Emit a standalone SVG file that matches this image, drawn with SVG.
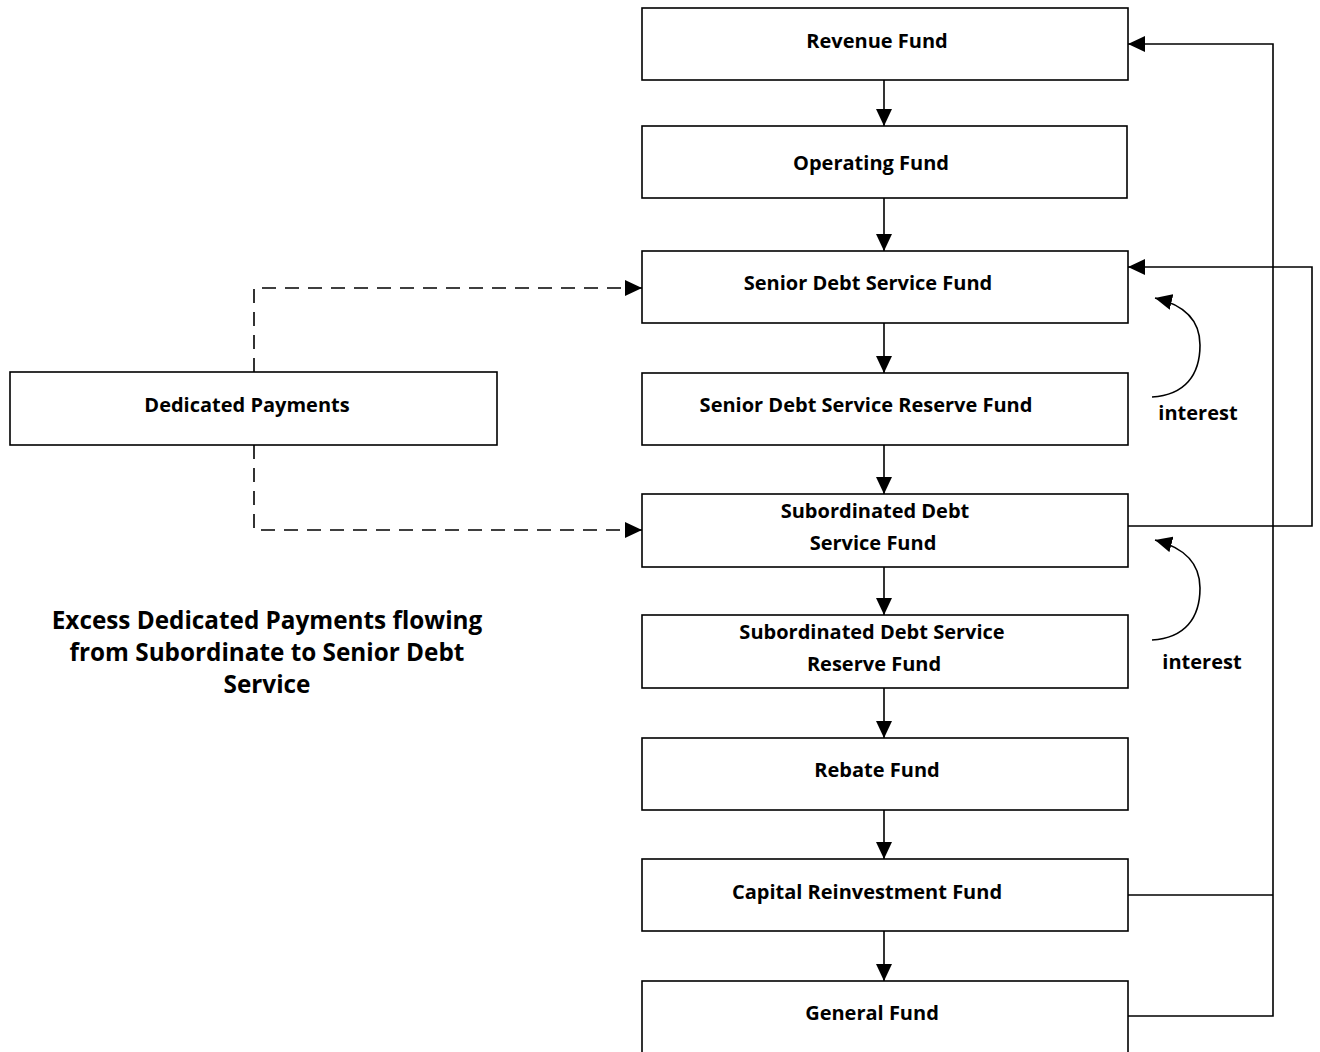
<svg xmlns="http://www.w3.org/2000/svg" width="1320" height="1052" viewBox="0 0 1320 1052">
  <style>
    .box { fill: #ffffff; stroke: #000000; stroke-width: 1.6; }
    .lbl { font-family: "Open Sans", "Liberation Sans", sans-serif; font-weight: bold; font-size: 20px; fill: #000000; text-anchor: middle; }
    .cap { font-family: "Open Sans", "Liberation Sans", sans-serif; font-weight: bold; font-size: 24.3px; fill: #000000; text-anchor: middle; }
    .ln { fill: none; stroke: #000000; stroke-width: 1.6; }
    .dash { fill: none; stroke: #000000; stroke-width: 1.6; stroke-dasharray: 14 9; }
  </style>
  <defs>
    <marker id="arrow" viewBox="0 0 17 16" refX="17" refY="8" markerWidth="17" markerHeight="16" markerUnits="userSpaceOnUse" orient="auto">
      <path d="M0,0 L17,8 L0,16 Z" fill="#000000"/>
    </marker>
  </defs>

  <rect width="1320" height="1052" fill="#ffffff"/>

  <!-- connectors -->
  <g id="connectors">
    <!-- vertical flow down the fund column -->
    <line class="ln" x1="884" y1="80" x2="884" y2="126" marker-end="url(#arrow)"/>
    <line class="ln" x1="884" y1="198" x2="884" y2="251" marker-end="url(#arrow)"/>
    <line class="ln" x1="884" y1="323" x2="884" y2="373" marker-end="url(#arrow)"/>
    <line class="ln" x1="884" y1="445" x2="884" y2="494" marker-end="url(#arrow)"/>
    <line class="ln" x1="884" y1="567" x2="884" y2="615" marker-end="url(#arrow)"/>
    <line class="ln" x1="884" y1="688" x2="884" y2="738" marker-end="url(#arrow)"/>
    <line class="ln" x1="884" y1="810" x2="884" y2="859" marker-end="url(#arrow)"/>
    <line class="ln" x1="884" y1="931" x2="884" y2="981" marker-end="url(#arrow)"/>

    <!-- return loop to Revenue Fund -->
    <path class="ln" d="M1128,1016 H1273 V44 H1128" marker-end="url(#arrow)"/>
    <line class="ln" x1="1128" y1="895" x2="1273" y2="895"/>

    <!-- excess loop from Subordinated to Senior Debt Service -->
    <path class="ln" d="M1128,526 H1312 V267 H1128" marker-end="url(#arrow)"/>

    <!-- interest curves -->
    <path class="ln" d="M1152,397 C1185,395 1200,375 1200,345 C1200,320 1185,305 1155,298" marker-end="url(#arrow)"/>
    <path class="ln" d="M1152,640 C1185,638 1200,618 1200,588 C1200,563 1185,548 1155,540" marker-end="url(#arrow)"/>

    <!-- dedicated payments (dashed) -->
    <path class="dash" d="M254,372 V288 H642" marker-end="url(#arrow)"/>
    <path class="dash" d="M254,445 V530 H642" marker-end="url(#arrow)"/>
  </g>

  <!-- nodes -->
  <g id="revenue-fund">
    <rect class="box" x="642" y="8" width="486" height="72"/>
    <text class="lbl" x="877" y="48">Revenue Fund</text>
  </g>
  <g id="operating-fund">
    <rect class="box" x="642" y="126" width="485" height="72"/>
    <text class="lbl" x="871" y="170">Operating Fund</text>
  </g>
  <g id="senior-debt-service-fund">
    <rect class="box" x="642" y="251" width="486" height="72"/>
    <text class="lbl" x="868" y="290">Senior Debt Service Fund</text>
  </g>
  <g id="senior-debt-service-reserve-fund">
    <rect class="box" x="642" y="373" width="486" height="72"/>
    <text class="lbl" x="866" y="412">Senior Debt Service Reserve Fund</text>
  </g>
  <g id="subordinated-debt-service-fund">
    <rect class="box" x="642" y="494" width="486" height="73"/>
    <text class="lbl" x="875" y="518">Subordinated Debt</text>
    <text class="lbl" x="873" y="550">Service Fund</text>
  </g>
  <g id="subordinated-debt-service-reserve-fund">
    <rect class="box" x="642" y="615" width="486" height="73"/>
    <text class="lbl" x="872" y="639">Subordinated Debt Service</text>
    <text class="lbl" x="874" y="671">Reserve Fund</text>
  </g>
  <g id="rebate-fund">
    <rect class="box" x="642" y="738" width="486" height="72"/>
    <text class="lbl" x="877" y="777">Rebate Fund</text>
  </g>
  <g id="capital-reinvestment-fund">
    <rect class="box" x="642" y="859" width="486" height="72"/>
    <text class="lbl" x="867" y="899">Capital Reinvestment Fund</text>
  </g>
  <g id="general-fund">
    <rect class="box" x="642" y="981" width="486" height="80"/>
    <text class="lbl" x="872" y="1020">General Fund</text>
  </g>
  <g id="dedicated-payments">
    <rect class="box" x="10" y="372" width="487" height="73"/>
    <text class="lbl" x="247" y="412">Dedicated Payments</text>
  </g>

  <!-- labels -->
  <g id="interest-labels">
    <text class="lbl" x="1198" y="420">interest</text>
    <text class="lbl" x="1202" y="669">interest</text>
  </g>
  <g id="caption">
    <text class="cap" x="267" y="629">Excess Dedicated Payments flowing</text>
    <text class="cap" x="267" y="661">from Subordinate to Senior Debt</text>
    <text class="cap" x="267" y="693">Service</text>
  </g>
</svg>
